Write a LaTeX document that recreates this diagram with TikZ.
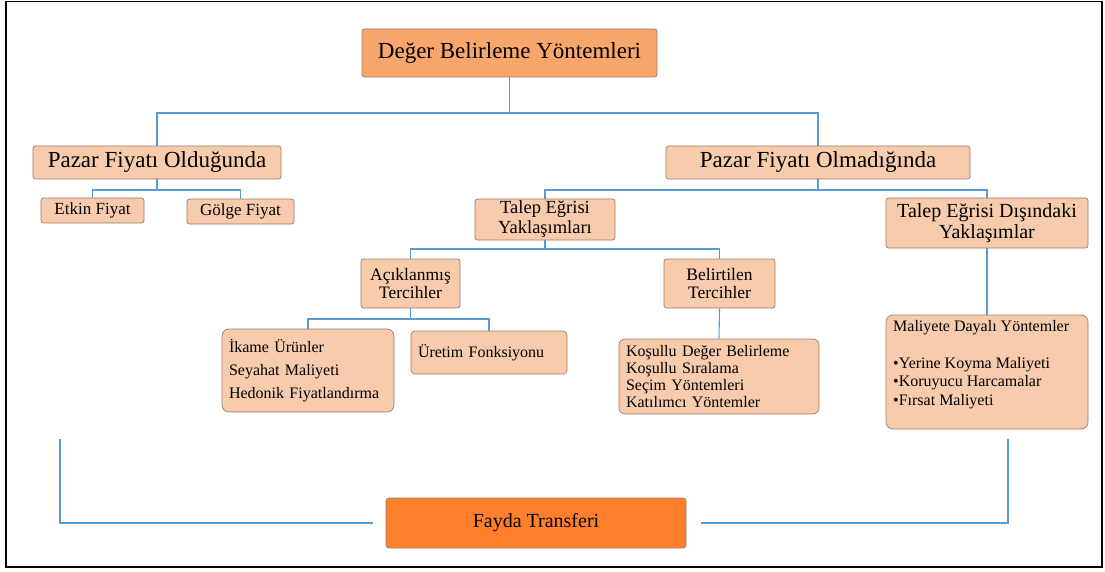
\documentclass[tikz,border=0pt]{standalone}
\usepackage{fontspec}
\setmainfont{Liberation Serif}
\setsansfont{Liberation Serif}
\newfontfamily\timesface{Liberation Serif}
\definecolor{peach}{HTML}{F7CBAB}
\definecolor{topfill}{HTML}{F9A66C}
\definecolor{fayfill}{HTML}{FE7F2C}
\definecolor{boxedge}{HTML}{9C7E6C}
\definecolor{link}{HTML}{5B9BD5}
\newcommand\fsz[2]{\timesface\fontsize{#1pt}{#2pt}\selectfont}
\begin{document}
\begin{tikzpicture}[x=1pt,y=-1pt,
  box/.style={draw=boxedge, line width=0.7pt, fill=peach, rounded corners=2.5pt,
              inner sep=0pt, align=center, text=black},
  listbox/.style={box, rounded corners=7pt, align=left, inner xsep=7pt},
  wire/.style={draw=link, line width=1.1pt},
  bigwire/.style={draw=link, line width=1.9pt}
]
% page frame
\useasboundingbox (0,0) rectangle (1105,572);
\draw[line width=1.3pt] (6,1.5) rectangle (1102,567);

% top level
\node[box, fill=topfill, minimum width=295pt, minimum height=48pt, font=\fsz{23}{26}]
  (top) at (509.5,53) {Değer Belirleme Yöntemleri};

% second level
\node[box, minimum width=248pt, minimum height=33pt, font=\fsz{23}{26}]
  (pfo) at (157,162.5) {Pazar Fiyatı Olduğunda};
\node[box, minimum width=304pt, minimum height=33pt, font=\fsz{23}{26}]
  (pfn) at (818,162.5) {Pazar Fiyatı Olmadığında};

% under "Pazar Fiyatı Olduğunda"
\node[box, minimum width=103pt, minimum height=25pt, font=\fsz{17}{19}]
  (etkin) at (92.5,210.5) {Etkin Fiyat};
\node[box, minimum width=107pt, minimum height=25pt, font=\fsz{17}{19}]
  (golge) at (240.5,211.5) {Gölge Fiyat};

% under "Pazar Fiyatı Olmadığında"
\node[box, minimum width=140pt, minimum height=41pt, font=\fsz{18.5}{20}]
  (teg) at (545,219.5) {Talep Eğrisi\\Yaklaşımları};
\node[box, minimum width=202pt, minimum height=50pt, font=\fsz{20}{21}]
  (ted) at (987,223) {Talep Eğrisi Dışındaki\\Yaklaşımlar};

% preference approaches
\node[box, minimum width=99pt, minimum height=49pt, font=\fsz{17.5}{18.5}]
  (acik) at (410.5,283.5) {Açıklanmış\\Tercihler};
\node[box, minimum width=111pt, minimum height=49pt, font=\fsz{17.5}{18.5}]
  (bel) at (719.5,283.5) {Belirtilen\\Tercihler};

% method lists
\node[listbox, text width=158pt, minimum height=83pt, font=\fsz{16}{23}]
  (ikame) at (308,370.5) {İkame Ürünler\\Seyahat Maliyeti\\Hedonik Fiyatlandırma};
\node[listbox, rounded corners=4pt, text width=142pt, minimum height=43pt, font=\fsz{16}{18}]
  (uretim) at (489,352.5) {Üretim Fonksiyonu};
\node[listbox, rounded corners=6pt, text width=186pt, minimum height=75pt, font=\fsz{16}{17}]
  (kosul) at (719,376.5) {Koşullu Değer Belirleme\\Koşullu Sıralama\\Seçim Yöntemleri\\Katılımcı Yöntemler};
\node[listbox, minimum width=202pt, minimum height=114pt]
  (maliyet) at (987,372) {};
\node[anchor=north west, inner sep=0pt, align=left, font=\fsz{16}{18.5}]
  (maliyettext) at (893,320) {Maliyete Dayalı Yöntemler\\[18.5pt]•Yerine Koyma Maliyeti\\•Koruyucu Harcamalar\\•Fırsat Maliyeti};

% benefit transfer
\node[box, fill=fayfill, rounded corners=3pt, minimum width=300pt, minimum height=50pt, font=\fsz{20}{22}]
  (fayda) at (536,523) {Fayda Transferi};

% tree connectors
\coordinate (b1) at (0,113);
\coordinate (b2) at (0,190);
\coordinate (b3) at (0,249);
\coordinate (b4) at (0,319);
\draw[wire] (top.south) -- (top.south |- b1);
\draw[wire] (pfo.north) -- (pfo.north |- b1) -- (pfn.north |- b1) -- (pfn.north);
\draw[wire] (pfo.south) -- (pfo.south |- b2);
\draw[wire] (etkin.north) -- (etkin.north |- b2) -- (golge.north |- b2) -- (golge.north);
\draw[wire] (pfn.south) -- (pfn.south |- b2);
\draw[wire] (teg.north) -- (teg.north |- b2) -- (ted.north |- b2) -- (ted.north);
\draw[wire] (teg.south) -- (teg.south |- b3);
\draw[wire] (acik.north) -- (acik.north |- b3) -- (bel.north |- b3) -- (bel.north);
\draw[wire] (acik.south) -- (acik.south |- b4);
\draw[wire] (ikame.north) -- (ikame.north |- b4) -- (uretim.north |- b4) -- (uretim.north);
\draw[wire] (bel.south) -- (kosul.north);
\draw[wire] (ted.south) -- (maliyet.north);

% side brackets to benefit transfer
\coordinate (lt) at (60,439);
\coordinate (rt) at (1008,439);
\draw[bigwire] (lt) |- ([xshift=-13pt]fayda.west);
\draw[bigwire] (rt) |- ([xshift=15pt]fayda.east);
\end{tikzpicture}
\end{document}
